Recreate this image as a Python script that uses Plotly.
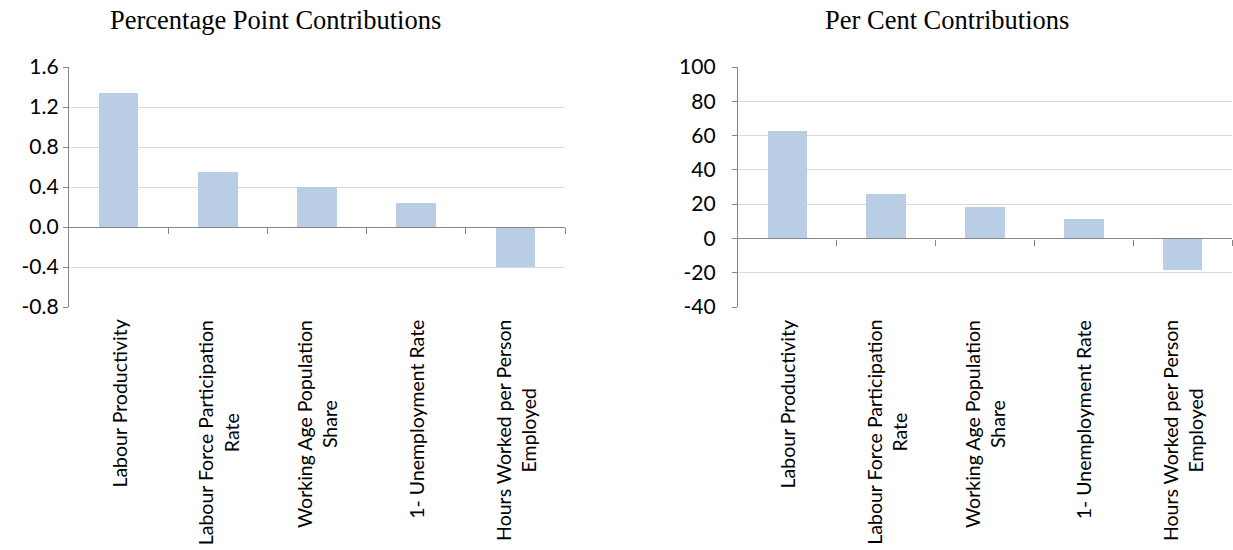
import plotly.graph_objects as go

categories = [
    "Labour Productivity",
    "Labour Force Participation<br>Rate",
    "Working Age Population<br>Share",
    "1- Unemployment Rate",
    "Hours Worked per Person<br>Employed",
]
pp_values = [1.34, 0.55, 0.40, 0.24, -0.40]
pc_values = [62.8, 25.8, 18.6, 11.2, -18.5]
pp_ticks = [-0.8, -0.4, 0.0, 0.4, 0.8, 1.2, 1.6]
pp_ticktext = ["-0.8", "-0.4", "0.0", "0.4", "0.8", "1.2", "1.6"]
pc_ticks = [-40, -20, 0, 20, 40, 60, 80, 100]
pc_ticktext = ["-40", "-20", "0", "20", "40", "60", "80", "100"]
titles = ["Percentage Point Contributions", "Per Cent Contributions"]

W, H = 1233, 550
ML, MR, MT, MB = 69, 1, 67, 243
pw = W - ML - MR
ph = H - MT - MB
dom1 = [0, (565 - ML) / pw]
dom2 = [(738 - ML) / pw, 1]

bar_color = "#B9CDE5"
font_fam = "Lato, Liberation Sans, sans-serif"
xs = list(range(len(categories)))

fig = go.Figure()
fig.add_trace(go.Bar(x=xs, y=pp_values, marker=dict(color=bar_color, line=dict(width=0)),
                     width=0.4, xaxis="x", yaxis="y", showlegend=False))
fig.add_trace(go.Bar(x=xs, y=pc_values, marker=dict(color=bar_color, line=dict(width=0)),
                     width=0.4, xaxis="x2", yaxis="y2", showlegend=False))

rng = [-0.5, len(categories) - 0.5]
bounds = [i + 0.5 for i in range(len(categories))]


def zero_pos(lo, hi):
    return (0 - lo) / (hi - lo)


pp_range = [pp_ticks[0], pp_ticks[-1]]
pc_range = [pc_ticks[0], pc_ticks[-1]]

common_x = dict(range=rng, showticklabels=False, showgrid=False, zeroline=False,
                showline=False, ticks="", fixedrange=True)
common_y = dict(showgrid=True, gridcolor="#D9D9D9", gridwidth=1, zeroline=False,
                showline=True, linecolor="#868686", linewidth=1.3, ticks="outside",
                ticklen=5, tickcolor="#868686",
                tickfont=dict(family=font_fam, size=21, color="#000000"),
                domain=[0, 1])
zero_axis = dict(range=rng, tickmode="array", tickvals=bounds, showticklabels=False,
                 ticks="outside", ticklen=6, tickcolor="#868686", showline=True,
                 linecolor="#868686", linewidth=1.3, showgrid=False, zeroline=False)

fig.update_layout(
    width=W, height=H,
    margin=dict(l=ML, r=MR, t=MT, b=MB, pad=0),
    paper_bgcolor="white", plot_bgcolor="white",
    bargap=0,
    xaxis=dict(domain=dom1, anchor="y", **common_x),
    xaxis2=dict(domain=dom2, anchor="y2", **common_x),
    yaxis=dict(anchor="x", range=pp_range, tickvals=pp_ticks, ticktext=pp_ticktext,
               ticklabelstandoff=0, **common_y),
    yaxis2=dict(anchor="x2", range=pc_range, tickvals=pc_ticks, ticktext=pc_ticktext,
                ticklabelstandoff=12, **common_y),
    xaxis3=dict(domain=dom1, overlaying="x", anchor="free", position=zero_pos(*pp_range), **zero_axis),
    xaxis4=dict(domain=dom2, overlaying="x2", anchor="free", position=zero_pos(*pc_range), **zero_axis),
)

fig.add_trace(go.Scatter(x=[xs[0]], y=[0], xaxis="x3", yaxis="y", mode="markers",
                         marker=dict(opacity=0), showlegend=False, hoverinfo="skip"))
fig.add_trace(go.Scatter(x=[xs[0]], y=[0], xaxis="x4", yaxis="y2", mode="markers",
                         marker=dict(opacity=0), showlegend=False, hoverinfo="skip"))

# rotated, centre-aligned category labels
for xref in ["x", "x2"]:
    for xi, cat in zip(xs, categories):
        fig.add_annotation(text=cat, x=xi, xref=xref, y=0, yref="paper",
                           xanchor="center", yanchor="top", yshift=-11,
                           textangle=-90, align="center", showarrow=False,
                           font=dict(family=font_fam, size=19.5, color="#000000"))

title_px = [275, 947]
for title, tx in zip(titles, title_px):
    fig.add_annotation(text=title, xref="paper", yref="paper",
                       x=(tx - ML) / pw, y=1 + (MT - 20) / ph,
                       xanchor="center", yanchor="middle", showarrow=False,
                       font=dict(family="Liberation Serif, Times New Roman, serif", size=26.5, color="#000000"))

fig.write_html("out.html", config={"displayModeBar": False},
               post_script="document.body.style.margin='0';document.body.style.overflow='hidden';")
